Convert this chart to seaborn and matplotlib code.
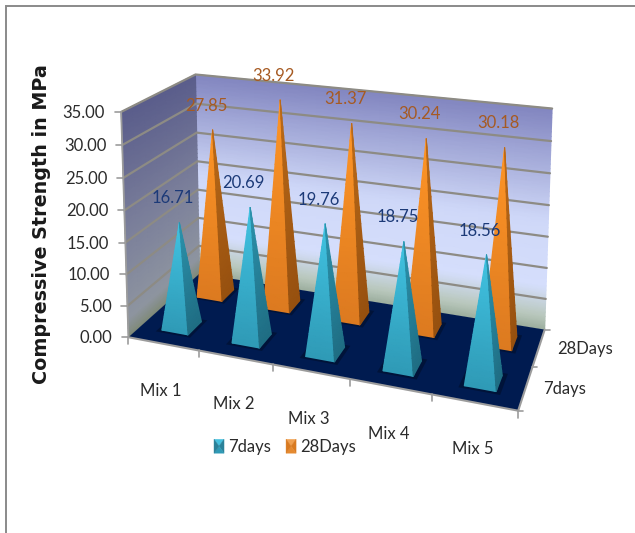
import numpy as np
import matplotlib
matplotlib.use("Agg")
import matplotlib.pyplot as plt
from matplotlib.colors import LinearSegmentedColormap
from matplotlib.legend_handler import HandlerBase
from matplotlib.patches import Patch, Polygon
import seaborn as sns

categories = ["Mix 1", "Mix 2", "Mix 3", "Mix 4", "Mix 5"]
series_names = ["7days", "28Days"]
strength_7days = [16.71, 20.69, 19.76, 18.75, 18.56]
strength_28days = [27.85, 33.92, 31.37, 30.24, 30.18]
value_ticks = [0, 5, 10, 15, 20, 25, 30, 35]

sns.set_theme(style="white")
NARROW = ["Lato", "DejaVu Sans"]
LABEL_SIZE = 12
TEXT = "#2b2b2b"

fig = plt.figure(figsize=(6.35, 5.33), dpi=100, facecolor="white")
ax = fig.add_axes([0, 0, 1, 1])
ax.set_xlim(0, 635)
ax.set_ylim(533, 0)
ax.axis("off")

# Camera for the chart box: category axis 0-5, depth axis 0-2, value axis 0-35.
box_world = np.array([(0, 0, 35), (0, 2, 35), (5, 2, 35), (5, 2, 0),
                      (5, 0, 0), (0, 0, 0), (0, 2, 0)], float)
box_screen = np.array([(120.7, 112), (196, 74), (552, 109), (545, 328),
                       (518, 412), (129, 336), (199, 275)], float)
rows, rhs = [], []
for (X, Y, Z), (u, v) in zip(box_world, box_screen):
    rows.append([X, Y, Z, 1, 0, 0, 0, 0, -u * X, -u * Y, -u * Z])
    rows.append([0, 0, 0, 0, X, Y, Z, 1, -v * X, -v * Y, -v * Z])
    rhs += [u, v]
camera = np.append(np.linalg.lstsq(np.array(rows), np.array(rhs), rcond=None)[0], 1).reshape(3, 4)


def project(x, y, z):
    x, y, z = np.broadcast_arrays(np.asarray(x, float), np.asarray(y, float), np.asarray(z, float))
    w = camera[2, 0] * x + camera[2, 1] * y + camera[2, 2] * z + camera[2, 3]
    u = (camera[0, 0] * x + camera[0, 1] * y + camera[0, 2] * z + camera[0, 3]) / w
    v = (camera[1, 0] * x + camera[1, 1] * y + camera[1, 2] * z + camera[1, 3]) / w
    return u, v


def ramp(*stops):
    return LinearSegmentedColormap.from_list("ramp", list(stops))


layer = [1]


def next_layer():
    layer[0] += 1
    return layer[0]


# Walls, shaded along the value axis
back_ramp = ramp((0, "#9cae9e"), (0.06, "#b9c8bd"), (0.2, "#d5defc"), (0.5, "#cfd8f8"), (1, "#8286c0"))
side_ramp = ramp((0, "#7f8a78"), (0.08, "#8e95a0"), (0.5, "#7a7e9a"), (1, "#5a5d8b"))
xg, zg = np.meshgrid(np.linspace(0, 5, 12), np.linspace(0, 35, 50))
U, V = project(xg, 2, zg)
ax.pcolormesh(U, V, zg / 35, cmap=back_ramp, vmin=0, vmax=1, shading="gouraud", zorder=next_layer())
yg, zg = np.meshgrid(np.linspace(0, 2, 8), np.linspace(0, 35, 50))
U, V = project(0, yg, zg)
ax.pcolormesh(U, V, zg / 35, cmap=side_ramp, vmin=0, vmax=1, shading="gouraud", zorder=next_layer())

# Floor
fx, fy = project([0, 5, 5, 0], [0, 0, 2, 2], 0)
ax.add_patch(Polygon(np.c_[fx, fy], closed=True, fc="#001b50", ec="none", zorder=next_layer()))

# Gridlines on the two walls
GRID = "#8d8b84"
for tick in value_ticks[1:]:
    u, v = project([0, 0, 5], [0, 2, 2], tick)
    ax.plot(u, v, color=GRID, lw=1.6, solid_joinstyle="miter", zorder=next_layer())

# Axis edges and tick marks
EDGE = "#9c9c9c"
u, v = project([0, 0], 0, [0, 35])
ax.plot(u, v, color=EDGE, lw=1.3, zorder=next_layer())
u, v = project([0, 5, 5], [0, 0, 2], 0)
ax.plot(u, v, color=EDGE, lw=1.5, zorder=next_layer())
for tick in value_ticks:
    u, v = project(0, 0, tick)
    ax.plot([u - 6, u], [v, v], color=EDGE, lw=1.2, zorder=next_layer())
    ax.annotate(f"{tick:.2f}", (u, v), xytext=(-16, -1), textcoords="offset pixels",
                ha="right", va="center", fontsize=LABEL_SIZE, family=NARROW, color=TEXT, zorder=90)
for i in range(len(categories) + 1):
    u, v = project(i, 0, 0)
    ax.plot([u, u], [v, v + 7], color=EDGE, lw=1.2, zorder=next_layer())
for d in range(3):
    u, v = project(5, d, 0)
    ax.plot([u, u + 5], [v, v], color=EDGE, lw=1.2, zorder=next_layer())

# Axis labels
for i, name in enumerate(categories):
    u, v = project(i + 0.5, 0, 0)
    ax.annotate(name, (u, v), xytext=(-2, -47), textcoords="offset pixels",
                ha="center", va="center", fontsize=LABEL_SIZE, family=NARROW, color=TEXT, zorder=90)
for d, name in enumerate(series_names):
    u, v = project(5, d + 0.5, 0)
    ax.annotate(name, (u, v), xytext=(18, -1), textcoords="offset pixels",
                ha="left", va="center", fontsize=LABEL_SIZE, family=NARROW, color=TEXT, zorder=90)

# Pyramids, far row first so the near row sits in front
HALF_X, HALF_Y = 0.19, 0.19
palette = {
    "7days": dict(front=ramp("#2f9ab6", "#41c3e2"), right=ramp("#1f6d83", "#2c93ad"), label="#1c3a78"),
    "28Days": dict(front=ramp("#dc7a20", "#ff9526"), right=ramp("#96500f", "#bb6a18"), label="#a65a22"),
}
rows_of_values = [(1.5, "28Days", strength_28days), (0.5, "7days", strength_7days)]


def draw_face(a, b, apex, cmap, zorder):
    t, h = np.meshgrid([0, 1], np.linspace(0, 1, 24))
    base = np.outer(1 - t.ravel(), a) + np.outer(t.ravel(), b)
    pts = base * (1 - h.ravel())[:, None] + np.asarray(apex) * h.ravel()[:, None]
    U, V = project(pts[:, 0], pts[:, 1], pts[:, 2])
    ax.pcolormesh(U.reshape(t.shape), V.reshape(t.shape), h, cmap=cmap, vmin=0, vmax=1,
                  shading="gouraud", zorder=zorder)


for depth, name, values in rows_of_values:
    style = palette[name]
    for i, value in enumerate(values):
        cx = i + 0.5
        sx, sy = project([cx - 1.3 * HALF_X, cx + 1.3 * HALF_X, cx + 1.3 * HALF_X, cx - 1.3 * HALF_X],
                         [depth - 1.3 * HALF_Y, depth - 1.3 * HALF_Y, depth + 1.3 * HALF_Y, depth + 1.3 * HALF_Y], 0)
        ax.add_patch(Polygon(np.c_[sx, sy], closed=True, fc="black", alpha=0.28, ec="none", zorder=next_layer()))
        left = (cx - HALF_X, depth - HALF_Y, 0)
        near = (cx + HALF_X, depth - HALF_Y, 0)
        far = (cx + HALF_X, depth + HALF_Y, 0)
        apex = (cx, depth, value)
        draw_face(left, near, apex, style["front"], next_layer())
        draw_face(near, far, apex, style["right"], next_layer())
        u, v = project(cx, depth, value)
        ax.annotate(f"{value:.2f}", (u, v), xytext=(-6.5, 24), textcoords="offset pixels",
                    ha="center", va="center", fontsize=LABEL_SIZE, family=NARROW, color=style["label"], zorder=90)


class PyramidIcon(HandlerBase):
    """Legend key: a pyramid seen from above, four shaded triangles."""

    def __init__(self, shades):
        super().__init__()
        self.shades = shades

    def create_artists(self, legend, orig_handle, xdescent, ydescent, width, height, fontsize, trans):
        x0, y0 = -xdescent, -ydescent
        x1, y1 = x0 + width, y0 + height
        mid = (x0 + width / 2, y0 + height / 2)
        corners = [(x0, y1), (x1, y1), (x1, y0), (x0, y0)]
        return [Polygon([corners[k], corners[(k + 1) % 4], mid], closed=True, fc=shade, ec=shade, lw=0.3, transform=trans)
                for k, shade in enumerate(self.shades)]


cyan_key, orange_key = Patch(label=series_names[0]), Patch(label=series_names[1])
legend = ax.legend(
    [cyan_key, orange_key], series_names, ncol=2, loc="center", bbox_to_anchor=(285, 447),
    bbox_transform=ax.transData, frameon=False, handlelength=0.6, handleheight=0.9,
    handletextpad=0.25, columnspacing=0.9, borderpad=0, prop={"family": NARROW, "size": LABEL_SIZE},
    labelcolor=TEXT,
    handler_map={
        cyan_key: PyramidIcon(["#45c0de", "#2a8199", "#2f9ab6", "#2a8199"]),
        orange_key: PyramidIcon(["#f0a050", "#d97a20", "#e58a30", "#d97a20"]),
    },
)
legend.set_zorder(95)

# Value axis title
ax.text(42, 224, "Compressive Strength in MPa", rotation=90, ha="center", va="center",
        family="DejaVu Sans", fontweight="bold", fontsize=13.8, color="#1a1a1a", zorder=90)

# Partial outer frame
ax.plot([6, 6, 635], [533, 6, 6], color="#8a8a8a", lw=1.4, solid_joinstyle="miter", zorder=99, clip_on=False)

fig.savefig("out.png", dpi=100)
